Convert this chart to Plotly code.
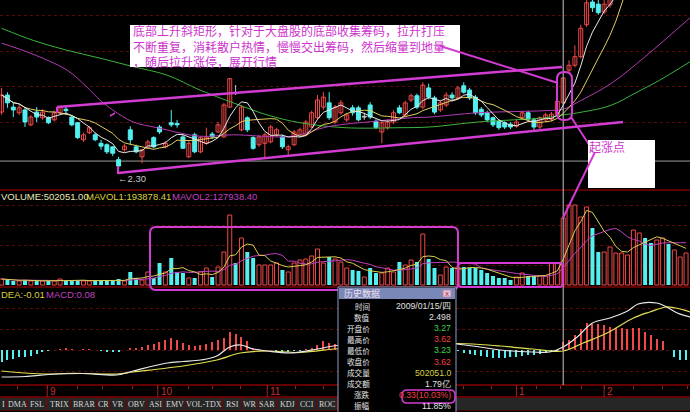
import plotly.graph_objects as go
import pandas as pd

W, H = 690, 412

# ---------------- data ----------------
open_ = [3.14, 3.38, 3.21, 3.13, 3.17, 2.96, 3.14, 3.06, 3.06, 3.03,
         3.13, 3.18, 3.07, 2.99, 2.75, 2.85, 2.82, 2.70, 2.68, 2.65,
         2.47, 2.61, 2.89, 2.65, 2.51, 2.63, 2.78, 2.93, 2.65, 2.99,
         2.98, 2.79, 2.51, 2.82, 2.58, 2.70, 2.83, 2.86, 2.79, 3.21,
         3.41, 2.89, 3.06, 2.78, 2.68, 2.70, 2.72, 2.82, 2.79, 2.61,
         2.68, 2.82, 2.82, 2.93, 3.06, 3.21, 3.27, 3.00, 3.13, 3.03,
         3.20, 3.20, 3.07, 3.24, 3.01, 2.86, 2.92, 3.00, 3.20, 3.10,
         3.31, 3.37, 3.21, 3.48, 3.34, 3.17, 3.24, 3.38, 3.34, 3.51,
         3.45, 3.35, 3.18, 3.13, 3.06, 3.01, 2.99, 2.97, 2.94, 3.06,
         3.13, 3.03, 2.93, 3.03, 3.04, 3.10, 3.27, 3.73, 3.80, 3.92,
         4.37, 4.69, 4.66, 4.55, 4.65, 4.85, 5.30, 5.85, 6.20, 6.60,
         7.00, 6.60, 6.30, 6.70, 7.05, 6.80, 7.00, 7.20]
high = [3.48, 3.42, 3.28, 3.24, 3.20, 3.10, 3.21, 3.18, 3.08, 3.16,
        3.23, 3.23, 3.10, 3.00, 2.85, 2.94, 2.85, 2.75, 2.70, 2.66,
        2.51, 2.69, 2.94, 2.68, 2.62, 2.75, 2.80, 2.96, 2.73, 3.17,
        3.03, 2.82, 2.73, 2.85, 2.80, 2.92, 2.86, 3.00, 3.27, 3.62,
        3.52, 3.24, 3.08, 2.80, 2.82, 2.85, 2.96, 2.92, 2.82, 2.68,
        2.89, 2.92, 3.03, 3.16, 3.38, 3.42, 3.42, 3.24, 3.31, 3.13,
        3.24, 3.23, 3.13, 3.28, 3.04, 3.01, 3.04, 3.17, 3.24, 3.30,
        3.40, 3.40, 3.56, 3.54, 3.37, 3.30, 3.42, 3.42, 3.51, 3.56,
        3.48, 3.38, 3.21, 3.16, 3.08, 3.04, 3.01, 3.00, 3.03, 3.16,
        3.16, 3.06, 3.08, 3.13, 3.14, 3.31, 3.62, 3.87, 4.08, 4.37,
        4.75, 4.80, 4.75, 4.78, 4.90, 5.27, 5.80, 6.30, 6.70, 7.10,
        7.10, 6.70, 6.80, 7.20, 7.15, 7.10, 7.30, 7.50]
low = [3.10, 3.20, 3.07, 3.10, 2.93, 2.94, 3.00, 3.03, 2.97, 3.01,
       3.11, 3.10, 2.94, 2.76, 2.72, 2.83, 2.73, 2.61, 2.55, 2.52,
       2.30, 2.58, 2.68, 2.56, 2.42, 2.62, 2.63, 2.83, 2.63, 2.93,
       2.92, 2.62, 2.49, 2.56, 2.56, 2.68, 2.76, 2.85, 2.78, 3.20,
       3.38, 2.87, 2.86, 2.61, 2.65, 2.49, 2.70, 2.79, 2.62, 2.51,
       2.66, 2.79, 2.80, 2.92, 3.03, 3.17, 3.03, 2.97, 3.10, 3.00,
       3.09, 3.01, 3.03, 3.04, 2.90, 2.70, 2.89, 2.97, 3.11, 3.07,
       3.28, 3.18, 3.18, 3.32, 3.11, 3.14, 3.21, 3.31, 3.31, 3.40,
       3.31, 3.10, 3.07, 3.00, 2.93, 2.89, 2.90, 2.90, 2.92, 3.03,
       3.01, 2.89, 2.90, 3.00, 3.01, 3.07, 3.23, 3.69, 3.77, 3.90,
       4.34, 4.55, 4.51, 4.52, 4.61, 4.80, 5.25, 5.80, 6.10, 6.50,
       6.50, 6.20, 6.20, 6.60, 6.70, 6.70, 6.90, 7.10]
close = [3.38, 3.27, 3.17, 3.20, 3.00, 3.07, 3.07, 3.14, 2.99, 3.13,
         3.21, 3.16, 2.96, 2.78, 2.82, 2.92, 2.75, 2.66, 2.58, 2.56,
         2.38, 2.66, 2.75, 2.58, 2.61, 2.72, 2.65, 2.86, 2.70, 2.96,
         2.96, 2.63, 2.70, 2.58, 2.78, 2.79, 2.79, 2.96, 3.24, 3.61,
         3.40, 3.21, 2.89, 2.63, 2.79, 2.82, 2.93, 2.89, 2.65, 2.65,
         2.86, 2.89, 3.00, 3.13, 3.31, 3.35, 3.06, 3.21, 3.27, 3.10,
         3.13, 3.03, 3.08, 3.07, 2.92, 2.99, 3.00, 3.13, 3.13, 3.27,
         3.37, 3.21, 3.52, 3.35, 3.14, 3.27, 3.38, 3.34, 3.48, 3.42,
         3.34, 3.13, 3.10, 3.03, 2.96, 2.92, 2.93, 2.93, 3.00, 3.13,
         3.04, 2.93, 3.06, 3.10, 3.11, 3.29, 3.62, 3.80, 3.92, 4.32,
         4.68, 4.61, 4.54, 4.66, 4.79, 5.27, 5.80, 6.20, 6.60, 6.95,
         6.60, 6.30, 6.70, 7.05, 6.80, 7.00, 7.20, 7.40]
volume = [45000, 37500, 30000, 30000, 37500, 30000, 30000, 30000, 30000, 30000,
          45000, 30000, 37500, 37500, 30000, 30000, 30000, 30000, 30000, 37500,
          45000, 30000, 97500, 52500, 37500, 97500, 52500, 165000, 97500, 202500,
          97500, 90000, 52500, 52500, 97500, 127500, 60000, 135000, 247500, 525000,
          165000, 352500, 247500, 202500, 150000, 150000, 150000, 165000, 112500, 97500,
          165000, 187500, 195000, 217500, 270000, 165000, 210000, 195000, 172500, 127500,
          112500, 105000, 60000, 127500, 90000, 90000, 127500, 97500, 172500, 150000,
          187500, 172500, 382500, 195000, 127500, 75000, 135000, 127500, 135000, 135000,
          127500, 127500, 112500, 90000, 67500, 52500, 52500, 37500, 60000, 90000,
          67500, 67500, 67500, 67500, 165000, 165000, 502051, 600000, 600000, 510000,
          585000, 427500, 247500, 247500, 285000, 240000, 240000, 225000, 412500, 390000,
          352500, 315000, 337500, 352500, 307500, 262500, 210000, 240000]
macd_hist = [-0.12, -0.10, -0.09, -0.07, -0.07, -0.06, -0.04, -0.02, -0.01, 0.00,
             0.01, 0.02, 0.01, 0.00, 0.01, 0.01, 0.00, -0.01, -0.02, -0.02,
             -0.02, 0.00, 0.02, 0.02, 0.03, 0.05, 0.06, 0.08, 0.10, 0.12,
             0.10, 0.07, 0.05, 0.04, 0.05, 0.06, 0.08, 0.10, 0.12, 0.18,
             0.16, 0.13, 0.09, 0.02, 0.01, 0.00, 0.00, -0.01, -0.02, -0.02,
             -0.01, -0.01, 0.01, 0.02, 0.05, 0.09, 0.07, 0.06, 0.05, 0.04,
             0.03, 0.02, 0.01, 0.00, -0.01, -0.01, 0.00, 0.01, 0.02, 0.03,
             0.04, 0.03, 0.05, 0.04, 0.02, 0.01, 0.00, 0.00, -0.01, -0.03,
             -0.04, -0.05, -0.06, -0.07, -0.08, -0.08, -0.08, -0.07, -0.07, -0.06,
             -0.05, -0.05, -0.04, -0.03, -0.02, -0.01, 0.08, 0.10, 0.15, 0.21,
             0.27, 0.26, 0.26, 0.25, 0.23, 0.22, 0.22, 0.21, 0.22, 0.22,
             0.18, 0.15, 0.11, 0.09, 0.00, -0.07, -0.10, -0.10]

dif_x = [0, 4, 8, 14, 19.7, 22.5, 28.3, 31, 34, 36.8, 39, 40.8, 43, 45.4, 49.3, 54, 56.7,
         58.7, 63, 68, 73, 77.8, 81.8, 85.2, 90.8, 93.7, 96, 98.4, 101, 104, 107, 108.8,
         112, 113.7, 115.5, 117.7]
dif_v = [-0.27, -0.265, -0.245, -0.235, -0.25, -0.21, -0.13, -0.115, -0.10, -0.06, 0.03, 0.05,
         0.01, -0.01, -0.03, 0.01, 0.04, 0.05, 0.04, 0.05, 0.08, 0.06, 0.03, 0.00, -0.02, -0.02,
         0.03, 0.13, 0.27, 0.32, 0.39, 0.46, 0.47, 0.43, 0.37, 0.33]
dea_x = [0, 4, 8, 11, 14, 19.7, 22.5, 31, 36.8, 40.8, 45.4, 51, 56.7, 58.7, 63, 68, 73, 77.8,
         81.8, 85.2, 90.8, 96, 99.4, 103.5, 108, 110.8, 113.7, 116, 117.7]
dea_v = [-0.21, -0.23, -0.24, -0.235, -0.235, -0.24, -0.22, -0.16, -0.10, -0.03, -0.01, -0.025,
         0.01, 0.02, 0.04, 0.04, 0.06, 0.065, 0.055, 0.04, 0.01, -0.01, 0.07, 0.17, 0.32, 0.38,
         0.43, 0.41, 0.38]
ma20_x = [0, 4.9, 11.2, 14.6, 16.8, 19, 22.5, 26.6, 33.9, 39.6, 48.1, 51, 55, 58.7, 62.5,
          70.2, 73.2, 81.4, 92.9, 96, 98.5, 104.3, 110, 117.7]
ma20_v = [4.11, 3.97, 3.73, 3.49, 3.31, 3.17, 3.00, 2.92, 2.80, 2.82, 2.79, 2.82, 2.92, 2.97,
          3.00, 3.06, 3.07, 3.13, 3.16, 3.18, 3.28, 3.55, 3.92, 4.47]
ma60_x = [0, 5.4, 11.2, 16.8, 22.5, 28.3, 33.9, 39.6, 45.4, 51, 58.7, 68.1, 73.2, 81.4, 92.9,
          96, 98.5, 104, 108.6, 112.5, 117.7]
ma60_v = [4.32, 4.15, 4.01, 3.90, 3.78, 3.66, 3.45, 3.27, 3.10, 2.99, 2.92, 2.92, 2.93, 3.00,
          3.06, 3.10, 3.13, 3.23, 3.42, 3.59, 3.85]

week_ticks = [2.8, 7.8, 12.9, 17.3, 22.3, 26.7, 31.9, 36.1, 40.8, 45.4, 50.2, 55.0, 59.8,
              64.6, 69.4, 74.2, 79.0, 83.8, 88.0, 91.5, 95.5, 99.2, 103.0, 108.0, 113.0, 117.2]
month_ticks = [7.8, 26.7, 45.4, 65.0, 88.0, 103.0]
month_labels = ["9", "10", "11", "", "1", "2"]

tab_labels = ["I", "DMA", "FSL", "TRIX", "BRAR", "CR", "VR", "OBV", "ASI", "EMV",
              "VOL-TDX", "RSI", "WR", "SAR", "KDJ", "CCI", "ROC"]
popup_labels = ["时间", "数值", "开盘价", "最高价", "最低价", "收盘价", "成交量", "成交额", "涨跌", "振幅"]
popup_values = ["2009/01/15/四", "2.498", "3.27", "3.62", "3.23", "3.62",
                "502051.0", "1.79亿", "0.33(10.03%)", "11.85%"]
note_lines = ["底部上升斜矩形，针对于大盘股的底部收集筹码，拉升打压",
              "不断重复，消耗散户热情，慢慢交出筹码，然后缩量到地量",
              "，随后拉升涨停，展开行情"]

# ---------------- styling ----------------
RED = "#f04848"
CYAN = "#54f0f0"
DOJI = "#c8c8c8"
MAG = "#d23cd2"
GRID = "#5a0808"
SEP = "#7a0000"
CJK = "Noto Sans CJK SC"
LAT = "Liberation Sans"

n = len(close)
idx = list(range(n))
x_left, x_right = (0 - 1.6) / 5.85, (W - 1.6) / 5.85

def px(x):
    return x / W

def py(y):
    return 1 - y / H

s_close = pd.Series(close)
ma5 = s_close.rolling(5, min_periods=1).mean()
ma10 = s_close.rolling(10, min_periods=1).mean()
s_vol = pd.Series(volume, dtype=float)
mavol1 = s_vol.rolling(5, min_periods=1).mean()
mavol2 = s_vol.rolling(10, min_periods=1).mean()

def kind(i):
    if abs(close[i] - open_[i]) <= 0.011:
        return "doji"
    return "up" if close[i] > open_[i] else "down"

def vol_up(i):
    if kind(i) == "doji":
        return i == 0 or close[i] >= close[i - 1]
    return kind(i) == "up"

fig = go.Figure()

# wicks
for k, col in (("up", RED), ("down", CYAN), ("doji", DOJI)):
    wx, wy = [], []
    for i in idx:
        if kind(i) == k:
            wx += [i, i, None]
            wy += [low[i], high[i], None]
    fig.add_trace(go.Scatter(x=wx, y=wy, mode="lines", line=dict(color=col, width=1),
                             hoverinfo="skip", xaxis="x", yaxis="y"))

# bodies
for k, fill, edge in (("up", "black", RED), ("down", CYAN, CYAN), ("doji", DOJI, DOJI)):
    sel = [i for i in idx if kind(i) == k]
    base = [min(open_[i], close[i]) for i in sel]
    hgt = [max(abs(close[i] - open_[i]), 0.006) for i in sel]
    fig.add_trace(go.Bar(x=sel, y=hgt, base=base, width=0.68,
                         marker=dict(color=fill, line=dict(color=edge, width=1)),
                         hoverinfo="skip", xaxis="x", yaxis="y"))

# price moving averages
fig.add_trace(go.Scatter(x=ma60_x, y=ma60_v, mode="lines", line=dict(color="#3cb43c", width=1, shape="spline"),
                         hoverinfo="skip", xaxis="x", yaxis="y"))
fig.add_trace(go.Scatter(x=ma20_x, y=ma20_v, mode="lines", line=dict(color="#b43cb4", width=1, shape="spline"),
                         hoverinfo="skip", xaxis="x", yaxis="y"))
fig.add_trace(go.Scatter(x=idx, y=ma10, mode="lines", line=dict(color="#e0d060", width=1),
                         hoverinfo="skip", xaxis="x", yaxis="y"))
fig.add_trace(go.Scatter(x=idx, y=ma5, mode="lines", line=dict(color="#e8e8e8", width=1),
                         hoverinfo="skip", xaxis="x", yaxis="y"))

# volume bars
vu = [i for i in idx if vol_up(i)]
vd = [i for i in idx if not vol_up(i)]
fig.add_trace(go.Bar(x=vu, y=[volume[i] for i in vu], width=0.68,
                     marker=dict(color="black", line=dict(color=RED, width=1)),
                     hoverinfo="skip", xaxis="x2", yaxis="y2"))
fig.add_trace(go.Bar(x=vd, y=[volume[i] for i in vd], width=0.68,
                     marker=dict(color=CYAN, line=dict(color=CYAN, width=0)),
                     hoverinfo="skip", xaxis="x2", yaxis="y2"))
fig.add_trace(go.Scatter(x=idx, y=mavol2, mode="lines", line=dict(color="#c040c0", width=1),
                         hoverinfo="skip", xaxis="x2", yaxis="y2"))
fig.add_trace(go.Scatter(x=idx, y=mavol1, mode="lines", line=dict(color="#d8d050", width=1),
                         hoverinfo="skip", xaxis="x2", yaxis="y2"))

# MACD
hp = [i for i in idx if macd_hist[i] >= 0]
hn = [i for i in idx if macd_hist[i] < 0]
fig.add_trace(go.Bar(x=hp, y=[macd_hist[i] for i in hp], width=0.2,
                     marker=dict(color=RED, line=dict(width=0)), hoverinfo="skip", xaxis="x3", yaxis="y3"))
fig.add_trace(go.Bar(x=hn, y=[macd_hist[i] for i in hn], width=0.2,
                     marker=dict(color=CYAN, line=dict(width=0)), hoverinfo="skip", xaxis="x3", yaxis="y3"))
fig.add_trace(go.Scatter(x=dea_x, y=dea_v, mode="lines", line=dict(color="#e0e050", width=1.2, shape="spline"),
                         hoverinfo="skip", xaxis="x3", yaxis="y3"))
fig.add_trace(go.Scatter(x=dif_x, y=dif_v, mode="lines", line=dict(color="#e8e8e8", width=1.2, shape="spline"),
                         hoverinfo="skip", xaxis="x3", yaxis="y3"))

# ---------------- shapes ----------------
shapes = []

def hline(y, color, width=1, x0=0, x1=W):
    shapes.append(dict(type="line", xref="paper", yref="paper", x0=px(x0), x1=px(x1),
                       y0=py(y), y1=py(y), line=dict(color=color, width=width), layer="above"))

def seg(x0, y0, x1, y1, color=MAG, width=2):
    shapes.append(dict(type="line", xref="paper", yref="paper", x0=px(x0), x1=px(x1),
                       y0=py(y0), y1=py(y1), line=dict(color=color, width=width), layer="above"))

def rect(x0, y0, x1, y1, fill, line_color=None, width=0):
    shapes.append(dict(type="rect", xref="paper", yref="paper", x0=px(x0), x1=px(x1),
                       y0=py(y1), y1=py(y0), fillcolor=fill,
                       line=dict(color=line_color or fill, width=width), layer="above"))

def rrect(x0, y0, x1, y1, r, color=MAG, width=2):
    X0, X1, Y0, Y1 = px(x0), px(x1), py(y0), py(y1)
    rx, ry = r / W, r / H
    path = (f"M {X0+rx},{Y0} L {X1-rx},{Y0} Q {X1},{Y0} {X1},{Y0-ry} L {X1},{Y1+ry} "
            f"Q {X1},{Y1} {X1-rx},{Y1} L {X0+rx},{Y1} Q {X0},{Y1} {X0},{Y1+ry} "
            f"L {X0},{Y0-ry} Q {X0},{Y0} {X0+rx},{Y0} Z")
    shapes.append(dict(type="path", xref="paper", yref="paper", path=path,
                       line=dict(color=color, width=width), layer="above"))

# gray reference line in price pane
shapes.append(dict(type="line", xref="paper", yref="y", x0=0, x1=1, y0=2.45, y1=2.45,
                   line=dict(color="#9a9a9a", width=1), layer="below"))
# pane separators
hline(190, SEP, 1.5)
hline(287, SEP, 1.5)
hline(385, "#8a0000", 1.5)
hline(397, "#8a0000", 1.5)
hline(410, "#8a0000", 1)
# cursor line
shapes.append(dict(type="line", xref="x", yref="paper", x0=96, x1=96, y0=py(385), y1=1,
                   line=dict(color="#c8c8c8", width=1), layer="above"))
# month ticks
for mt in month_ticks:
    shapes.append(dict(type="line", xref="x", yref="paper", x0=mt, x1=mt, y0=py(397), y1=py(385),
                       line=dict(color="#a02020", width=1), layer="above"))

# channel lines and notes
seg(57, 107, 562, 67, width=2.5)
seg(57, 107, 57, 113, width=2)
seg(118, 173, 623, 122, width=2.5)
seg(118, 166, 118, 174, width=2)
seg(110, 116, 115, 113, width=1.5)
rect(130, 25, 460, 67, "white")
seg(440, 46, 558, 83, width=2)
rrect(557, 72, 572, 120, 7)
seg(571, 117, 590, 146, width=2)
rect(588, 140, 655, 188, "white")
seg(595, 152, 563, 218, width=2)
# volume boxes
rrect(150, 227, 458, 290, 6)
rrect(458, 263, 563, 287, 4)

# bottom tab bar
rect(0, 398, W, 410, "#262626")
for sx in [7, 27, 47, 71, 97, 110, 126, 147, 164, 186, 223, 242, 258, 277, 297, 317, 337]:
    shapes.append(dict(type="line", xref="paper", yref="paper", x0=px(sx), x1=px(sx),
                       y0=py(410), y1=py(398), line=dict(color="#7a0000", width=1), layer="above"))

# popup window
rect(338, 287, 456, 414, "black", "#8c9cc8", 1)
rect(339, 288, 455, 299, "#7a88b8")
rect(443, 290, 451, 297, "#e0c8dc", "#c080a0", 1)
rrect(402, 390, 455, 403, 5, width=1.5)

# ---------------- annotations ----------------
anns = []

def ann(text, x, y, color, size, family=LAT, xanchor="left", yanchor="middle", align="left"):
    anns.append(dict(text=text, x=px(x), y=py(y), xref="paper", yref="paper", showarrow=False,
                     xanchor=xanchor, yanchor=yanchor, align=align,
                     font=dict(color=color, size=size, family=family), borderpad=0))

ann("<br>".join(note_lines), 132, 46, "#cc33cc", 12, CJK)
ann("起涨点", 588, 147, "#cc33cc", 12, CJK)
ann("←2.30", 117, 178, "#c8c8c8", 9.5)

ann("VOLUME:502051.00", 0, 196, "#e8e8b8", 9.5)
ann("MAVOL1:193878.41", 85, 196, "#d8d040", 9.5)
ann("MAVOL2:127938.40", 171, 196, "#c040c0", 9.5)
ann("DEA:-0.01", 0, 294, "#d8d040", 9.5)
ann("MACD:0.08", 45, 294, "#c040c0", 9.5)

for mt, ml in zip(month_ticks, month_labels):
    if ml:
        ann(ml, 1.6 + 5.85 * mt + 2, 391, "#c03030", 10)

tab_centers = [3, 17, 37, 59, 84, 103, 118, 136, 155, 175, 204, 232, 250, 267, 287, 307, 327]
for t, cx in zip(tab_labels, tab_centers):
    ann(t, cx, 404, "#d8d8d8", 8, "Liberation Serif", "center")

ann("历史数据", 343, 293.5, "#f4e0ee", 9, CJK)
ann("x", 447, 293, "#c02040", 8, LAT, "center")
value_colors = ["#e0e0e0", "#e0e0e0", "#40d040", "#f04040", "#40d040", "#f04040",
                "#d8d040", "#e0e0e0", "#f04040", "#e0e0e0"]
for k, (lab, val, vc) in enumerate(zip(popup_labels, popup_values, value_colors)):
    yy = 306 + 11.1 * k
    ann(lab, 371, yy, "#e6e6e6", 7.6, CJK, "right")
    ann(val, 452, yy, vc, 8.7, LAT, "right")

fig.update_layout(
    width=W, height=H, margin=dict(l=0, r=0, t=0, b=0),
    paper_bgcolor="black", plot_bgcolor="black", showlegend=False, barmode="overlay",
    xaxis=dict(domain=[0, 1], range=[x_left, x_right], anchor="y", visible=False),
    xaxis2=dict(domain=[0, 1], range=[x_left, x_right], anchor="y2", matches="x", visible=False),
    xaxis3=dict(domain=[0, 1], range=[x_left, x_right], anchor="y3", matches="x",
                showticklabels=False, ticks="outside", ticklen=3, tickcolor="#a02020",
                tickvals=week_ticks, showgrid=False, zeroline=False, showline=False),
    yaxis=dict(domain=[py(188), 1], range=[4.7186 - 188 / 71, 4.7186], tickvals=[3.0, 3.5, 4.0, 4.5],
               showticklabels=False, showgrid=True, gridcolor=GRID, griddash="dot", zeroline=False, ticks=""),
    yaxis2=dict(domain=[py(288), py(200)], range=[-22500, 637500], tickvals=[150000, 300000, 450000, 600000],
                showticklabels=False, showgrid=True, gridcolor=GRID, griddash="dot", zeroline=False, ticks=""),
    yaxis3=dict(domain=[py(385), py(300)], range=[-0.35, 0.50], tickvals=[-0.21, 0.0, 0.21, 0.42],
                showticklabels=False, showgrid=True, gridcolor=GRID, griddash="dot", zeroline=False, ticks=""),
    shapes=shapes, annotations=anns,
)

fig.write_html("out.html", config={"displayModeBar": False},
               post_script="document.body.style.margin='0';document.body.style.background='black';")
